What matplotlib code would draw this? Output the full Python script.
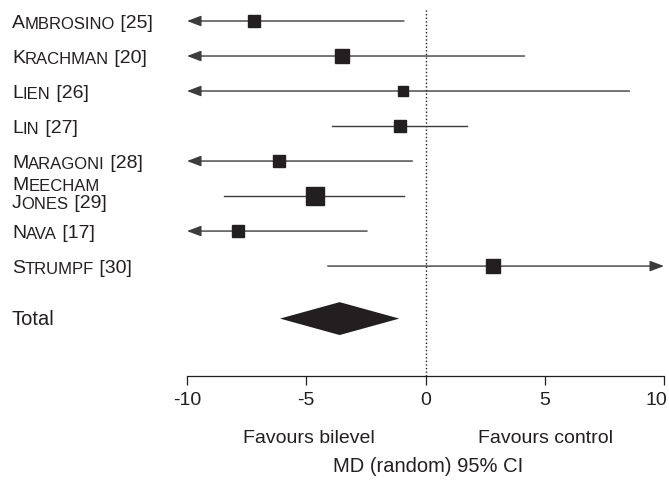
import matplotlib
matplotlib.use("Agg")
from matplotlib import pyplot as plt
from matplotlib.patches import Polygon
from matplotlib.transforms import blended_transform_factory, ScaledTranslation
import numpy as np

plt.rcParams['font.family'] = ['Liberation Sans', 'DejaVu Sans']

# study name (first letter, rest in small caps), reference number
studies = ["Ambrosino", "Krachman", "Lien", "Lin", "Maragoni", "Meecham Jones", "Nava", "Strumpf"]
refs = ["[25]", "[20]", "[26]", "[27]", "[28]", "[29]", "[17]", "[30]"]
md = [-7.2, -3.5, -0.95, -1.05, -6.15, -4.65, -7.85, 2.85]
ci_low = [-13.5, -11.1, -10.5, -3.9, -11.8, -8.45, -13.2, -4.1]
ci_high = [-0.9, 4.15, 8.55, 1.75, -0.55, -0.9, -2.45, 10.6]
weights = [10.7, 13.9, 7.5, 11.4, 11.4, 21.2, 11.4, 12.5]

total_md = -3.6
total_low = -6.1
total_high = -1.1

xticks = [-10, -5, 0, 5, 10]

ink = '#231f20'
line_col = '#3c3c3c'

fig = plt.figure(figsize=(6.69, 4.83), dpi=100)
ax = fig.add_axes([187 / 669, 1 - 376 / 483, 477 / 669, 376 / 483])
ax.set_xlim(-10, 10)
ax.set_ylim(10.14, -0.6)

for s in ['top', 'right', 'left']:
    ax.spines[s].set_visible(False)
ax.spines['bottom'].set_color(ink)
ax.spines['bottom'].set_linewidth(0.9)
ax.set_yticks([])
ax.set_xticks(xticks)
ax.set_xticklabels([str(t) for t in xticks])
ax.tick_params(axis='x', length=6.5, width=0.9, color=ink, pad=5, labelsize=14, labelcolor=ink)
# last label pulled in so it stays inside the picture
last = ax.get_xticklabels()[-1]
last.set_horizontalalignment('right')
last.set_transform(last.get_transform() + ScaledTranslation(0.03, 0, fig.dpi_scale_trans))

# line of no effect
ax.plot([0, 0], [10.14, -0.34], color=ink, lw=1.0, ls=(0, (1, 1.6)), clip_on=False)

xmin, xmax = ax.get_xlim()
arrow = dict(arrowstyle='-|>,head_length=0.45,head_width=0.17', color=line_col,
             lw=1.0, shrinkA=0, shrinkB=0, mutation_scale=19)

for i in range(len(studies)):
    lo, hi = ci_low[i], ci_high[i]
    lo_c, hi_c = max(lo, xmin), min(hi, xmax)
    if lo < xmin:
        ax.annotate('', xy=(xmin, i), xytext=(hi_c, i), arrowprops=arrow, annotation_clip=False)
    if hi > xmax:
        ax.annotate('', xy=(xmax, i), xytext=(lo_c, i), arrowprops=arrow, annotation_clip=False)
    if lo >= xmin and hi <= xmax:
        ax.plot([lo_c, hi_c], [i, i], color=line_col, lw=1.0)
    ax.plot(md[i], i, marker='s', color=ink, ms=2.7 * np.sqrt(weights[i]), zorder=3)

ty = len(studies) + 0.5
diamond = Polygon([[total_low, ty], [total_md, ty - 0.47], [total_high, ty], [total_md, ty + 0.47]],
                  closed=True, facecolor=ink, edgecolor='none')
ax.add_patch(diamond)

# study labels in small caps
tr = blended_transform_factory(fig.transFigure, ax.transData)
big, small = 14, 12


def smallcaps_line(x, y, parts):
    t = None
    for text, fs in parts:
        if t is None:
            t = ax.text(x, y, text, transform=tr, fontsize=fs, color=ink, va='baseline', ha='left')
        else:
            t = ax.annotate(text, xy=(1, 0), xycoords=t, fontsize=fs, color=ink, va='bottom', ha='left')


def word_parts(word):
    out = []
    for k, w in enumerate(word.split()):
        if k > 0:
            out.append((' ', big))
        out.append((w[0].upper(), big))
        out.append((w[1:].upper(), small))
    return out


lx = 12 / 669
for i, name in enumerate(studies):
    if ' ' in name:
        first, second = name.split(' ', 1)
        smallcaps_line(lx, i - 0.17, word_parts(first))
        smallcaps_line(lx, i + 0.35, word_parts(second) + [(' ' + refs[i], big)])
    else:
        smallcaps_line(lx, i + 0.19, word_parts(name) + [(' ' + refs[i], big)])

ax.text(lx, ty + 0.19, 'Total', transform=tr, fontsize=14.5, color=ink, va='baseline', ha='left')

fig.text(309 / 669, 1 - 443 / 483, 'Favours bilevel', fontsize=14, color=ink, ha='center', va='baseline')
fig.text(545 / 669, 1 - 443 / 483, 'Favours control', fontsize=14, color=ink, ha='center', va='baseline')
fig.text(428 / 669, 1 - 472 / 483, 'MD (random) 95% CI', fontsize=14.5, color=ink, ha='center', va='baseline')

fig.savefig('out.png', dpi=100)
